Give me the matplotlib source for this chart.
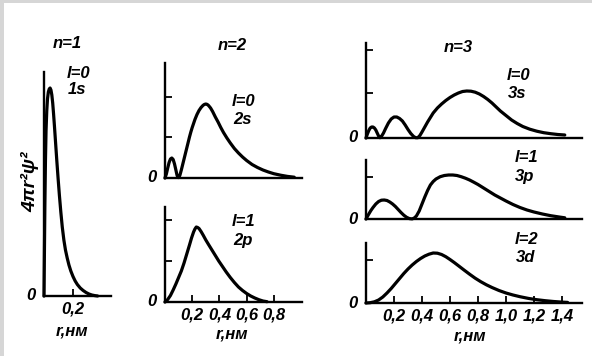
import matplotlib
matplotlib.use("Agg")
import matplotlib.pyplot as plt
from matplotlib.patches import Rectangle

# radial probability curves: r in nm, height in arbitrary units
r_1s = [0, 0.003, 0.006, 0.010, 0.014, 0.019, 0.024, 0.030, 0.036, 0.042, 0.048,
        0.054, 0.060, 0.066, 0.072, 0.080, 0.088, 0.097, 0.106, 0.116, 0.126,
        0.137, 0.148, 0.160, 0.172, 0.185, 0.20, 0.215, 0.23, 0.25, 0.27, 0.29,
        0.31, 0.33, 0.35, 0.37]
p_1s = [0, 45, 90, 135, 165, 185, 197, 204, 207, 208, 206,
        201, 193, 182, 170, 153, 136, 118, 101, 84, 69,
        56, 46, 38, 31, 25, 19.5, 15, 11.5, 8, 5.5, 3.5,
        2, 1, 0.4, 0]

r_2s = [0, 0.01, 0.02, 0.03, 0.04, 0.05, 0.06, 0.07, 0.08, 0.088, 0.095, 0.102,
        0.11, 0.12, 0.13, 0.14, 0.15, 0.16, 0.17, 0.18, 0.19, 0.20, 0.21, 0.22,
        0.235, 0.25, 0.265, 0.28, 0.29, 0.30, 0.31, 0.32, 0.335, 0.35, 0.37,
        0.39, 0.41, 0.43, 0.455, 0.48, 0.51, 0.54, 0.57, 0.60, 0.64, 0.68, 0.72,
        0.76, 0.80, 0.85, 0.90, 0.95]
p_2s = [0, 4, 10, 15.5, 19, 20, 18.5, 14, 8, 3, 0.5, 0.5,
        3, 8, 13.5, 19, 24.5, 30, 35.5, 41, 46, 50.5, 54.5, 58.5,
        63.5, 67.5, 70.5, 72.7, 73.6, 74, 73.6, 72.5, 70, 66.5, 61,
        56, 50.5, 45.5, 40, 35, 29.5, 25, 21, 17.5, 13.5, 10.5, 8,
        6, 4.3, 2.8, 1.6, 0.8]

r_2p = [0, 0.02, 0.04, 0.06, 0.08, 0.10, 0.12, 0.14, 0.16, 0.18, 0.195, 0.21,
        0.22, 0.23, 0.24, 0.25, 0.265, 0.28, 0.30, 0.32, 0.345, 0.37, 0.395,
        0.42, 0.45, 0.48, 0.51, 0.54, 0.57, 0.60, 0.63, 0.66, 0.69, 0.72, 0.75]
p_2p = [0, 2.5, 6.5, 12, 18, 24.5, 31, 39, 48, 57, 64, 70,
        73, 75, 74.5, 73.5, 70.5, 67, 62, 57.5, 52, 46.5, 41,
        36, 30, 24.5, 19.5, 15, 11.5, 8.5, 6, 4, 2.3, 1, 0.3]

r_3s = [0, 0.01, 0.02, 0.03, 0.04, 0.05, 0.06, 0.07, 0.08, 0.09, 0.10, 0.11,
        0.125, 0.14, 0.16, 0.18, 0.20, 0.22, 0.24, 0.26, 0.28, 0.30, 0.32, 0.34,
        0.355, 0.37, 0.385, 0.40, 0.42, 0.44, 0.46, 0.48, 0.51, 0.54, 0.57, 0.60,
        0.63, 0.66, 0.69, 0.72, 0.75, 0.78, 0.81, 0.84, 0.87, 0.90, 0.93, 0.96,
        1.00, 1.04, 1.08, 1.12, 1.17, 1.22, 1.27, 1.32, 1.37, 1.42]
p_3s = [0, 4, 7.5, 10, 11, 11, 10, 8, 5, 2, 0.3, 1.5,
        5, 9.5, 15, 19, 21, 21, 19.5, 17, 13, 8.5, 4.5, 1.5,
        0.3, 0.3, 2.5, 6, 11, 16, 20.5, 25, 30, 34, 37.5, 40.5,
        43, 45, 46.5, 47, 46.8, 45.8, 44, 41.5, 38.5, 35, 31, 27,
        22.5, 18, 14.5, 11.5, 8.8, 6.8, 5.3, 4.3, 3.5, 3]

r_3p = [0, 0.01, 0.02, 0.035, 0.05, 0.07, 0.09, 0.11, 0.13, 0.15, 0.17, 0.19,
        0.21, 0.23, 0.25, 0.27, 0.29, 0.31, 0.33, 0.345, 0.36, 0.38, 0.40, 0.42,
        0.44, 0.46, 0.48, 0.50, 0.53, 0.56, 0.59, 0.62, 0.65, 0.68, 0.71, 0.74,
        0.77, 0.80, 0.84, 0.88, 0.92, 0.96, 1.00, 1.05, 1.10, 1.15, 1.20, 1.26,
        1.32, 1.38, 1.42]
p_3p = [0, 2.5, 5, 8.5, 11.5, 15, 17.5, 18.8, 19, 18.5, 17, 15,
        12.5, 9.5, 6.5, 3.8, 1.7, 0.4, 0.1, 1, 3, 8, 15, 22,
        28.5, 34, 37.5, 40, 42.3, 43.5, 44, 44, 43.5, 42.3, 40.8, 39,
        36.8, 34.5, 31, 27.5, 24, 21, 18, 14.5, 11.5, 9, 7, 5,
        3.3, 2, 1.2]

r_3d = [0, 0.03, 0.06, 0.09, 0.12, 0.15, 0.18, 0.21, 0.24, 0.27, 0.30, 0.33,
        0.36, 0.39, 0.42, 0.45, 0.48, 0.51, 0.54, 0.57, 0.60, 0.63, 0.66, 0.70,
        0.74, 0.78, 0.82, 0.86, 0.90, 0.95, 1.00, 1.05, 1.10, 1.16, 1.22, 1.28,
        1.34, 1.40, 1.44]
p_3d = [0, 0.3, 1.2, 3, 6, 10, 14.5, 19.5, 24.5, 29.5, 34, 38,
        41.5, 44.5, 47, 48.8, 50, 49.8, 48.5, 46.3, 43.5, 40.5, 37.3, 33,
        28.8, 24.8, 21.3, 18.2, 15.5, 12.5, 10, 8, 6.3, 4.6, 3.3, 2.3,
        1.5, 0.9, 0.6]

ticks_1 = [0.2]
ticks_2 = [0.2, 0.4, 0.6, 0.8]
ticks_3 = [0.2, 0.4, 0.6, 0.8, 1.0, 1.2, 1.4]

W, H = 592, 356
plt.rcParams["font.family"] = ["Liberation Sans", "DejaVu Sans"]
plt.rcParams["font.style"] = "italic"
plt.rcParams["font.weight"] = "bold"
plt.rcParams["font.size"] = 12

fig = plt.figure(figsize=(W / 100, H / 100), dpi=100)
fig.patch.set_facecolor("white")
# grey edge of the scanned page
fig.add_artist(Rectangle((0, 1 - 3 / H), 1, 3 / H, transform=fig.transFigure,
                         color="#d6d6d6", lw=0))
fig.add_artist(Rectangle((0, 0), 4 / W, 1, transform=fig.transFigure,
                         color="#d6d6d6", lw=0))


def panel(left, base, right, top, xmax, ymax, r, p, yticks=(), xticks=None):
    ax = fig.add_axes([left / W, 1 - base / H, (right - left) / W, (base - top) / H])
    ax.patch.set_alpha(0)
    ax.set_xlim(0, xmax)
    ax.set_ylim(0, ymax)
    for s in ("top", "right"):
        ax.spines[s].set_visible(False)
    for s in ("left", "bottom"):
        ax.spines[s].set_linewidth(1.7)
    ax.set_yticks(yticks)
    ax.tick_params(axis="y", direction="in", length=5, width=1.3, labelleft=False)
    if xticks:
        ax.set_xticks(xticks)
        ax.set_xticklabels([f"{t:.1f}".replace(".", ",") for t in xticks])
        ax.tick_params(axis="x", direction="in", length=5, width=1.3, pad=4,
                       labelsize=12)
    else:
        ax.set_xticks([])
    ax.plot(r, p, color="black", lw=2.3, solid_joinstyle="round",
            solid_capstyle="round", clip_on=False)
    ax.annotate("0", xy=(0, 0), xytext=(-6, 0), textcoords="offset points",
                ha="right", va="center", fontsize=12)
    return ax


panel(44, 296, 111, 72, 0.462, 224, r_1s, p_1s, xticks=ticks_1)
panel(165, 178, 302, 63, 1.007, 115, r_2s, p_2s, yticks=[41, 81])
panel(165, 302, 302, 207, 1.007, 95, r_2p, p_2p, yticks=[41, 82], xticks=ticks_2)
panel(366, 138, 582, 43, 1.543, 95, r_3s, p_3s, yticks=[45, 88])
panel(366, 219, 582, 160, 1.543, 59, r_3p, p_3p, yticks=[42])
panel(366, 303, 582, 243, 1.543, 60, r_3d, p_3d, yticks=[43], xticks=ticks_3)


def txt(x, y, s, ha="left", **kw):
    fig.text(x / W, 1 - y / H, s, ha=ha, va="center", **kw)


txt(67, 44, "n=1", ha="center")
txt(67, 73, "l=0")
txt(68, 89, "1s")
txt(232, 45, "n=2", ha="center")
txt(232, 102, "l=0")
txt(233, 120, "2s")
txt(232, 221, "l=1")
txt(233, 240, "2p")
txt(458, 48, "n=3", ha="center")
txt(507, 76, "l=0")
txt(508, 94, "3s")
txt(515, 157, "l=1")
txt(515, 177, "3p")
txt(515, 239, "l=2")
txt(516, 258, "3d")

txt(72, 331, "r,нм", ha="center")
txt(232, 334, "r,нм", ha="center")
txt(470, 336, "r,нм", ha="center")
txt(30, 182, "4πr²ψ²", ha="center", rotation=90, fontsize=14)

fig.savefig("out.png", dpi=100)
